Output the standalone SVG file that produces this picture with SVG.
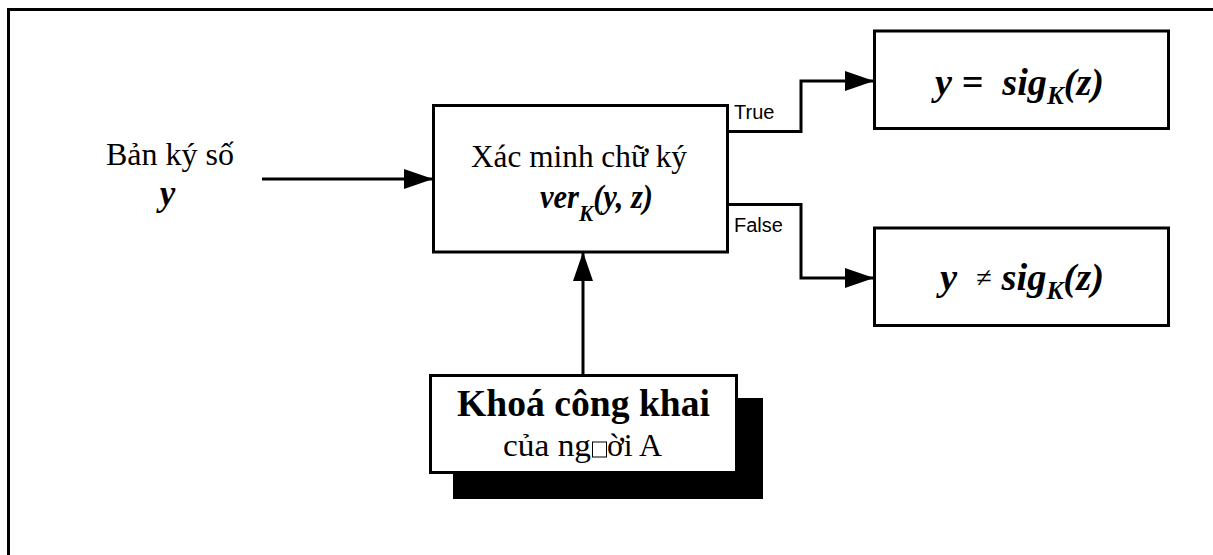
<svg xmlns="http://www.w3.org/2000/svg" width="1213" height="555" viewBox="0 0 1213 555">
  <defs>
    <marker id="arrow" markerUnits="userSpaceOnUse" markerWidth="30" markerHeight="20" refX="29" refY="10" orient="auto">
      <path d="M0,0 L29,10 L0,20 Z" fill="#000"/>
    </marker>
    <style>
      .box { fill: #fff; stroke: #000; stroke-width: 3; }
      .wire { fill: none; stroke: #000; stroke-width: 3; }
      .serif { font-family: "Liberation Serif", "Times New Roman", serif; fill: #000; }
      .math { font-family: "Liberation Serif", "Times New Roman", serif; font-weight: bold; font-style: italic; fill: #000; }
      .sans { font-family: "Liberation Sans", Arial, sans-serif; font-size: 20px; fill: #000; }
    </style>
  </defs>

  <rect width="1213" height="555" fill="#fff"/>

  <!-- outer frame -->
  <path d="M8.5,555 V9.5 H1213" fill="none" stroke="#000" stroke-width="3"/>

  <!-- input label -->
  <g id="input">
    <text class="serif" x="170" y="165" font-size="32" text-anchor="middle" textLength="128" lengthAdjust="spacingAndGlyphs">Bản ký số</text>
    <text class="math" x="167.5" y="205" font-size="35" text-anchor="middle">y</text>
  </g>

  <!-- verification block -->
  <g id="verify">
    <rect class="box" x="433.5" y="105.5" width="294" height="146.5"/>
    <text class="serif" x="579" y="167" font-size="32" text-anchor="middle" textLength="216" lengthAdjust="spacingAndGlyphs">Xác minh chữ ký</text>
    <text class="math" x="540" y="208" font-size="33" textLength="113" lengthAdjust="spacingAndGlyphs">ver<tspan font-size="23" dy="13">K</tspan><tspan dy="-13">(y, z)</tspan></text>
  </g>

  <!-- result: valid -->
  <g id="valid">
    <rect class="box" x="874.5" y="31" width="294" height="97.5"/>
    <text class="math" x="935" y="95" font-size="38" xml:space="preserve" textLength="169" lengthAdjust="spacingAndGlyphs">y =  sig<tspan font-size="25" dy="9">K</tspan><tspan dy="-9">(z)</tspan></text>
  </g>

  <!-- result: invalid -->
  <g id="invalid">
    <rect class="box" x="874.5" y="228" width="294" height="97.5"/>
    <text class="math" x="940" y="290" font-size="38" xml:space="preserve" textLength="164" lengthAdjust="spacingAndGlyphs">y  <tspan font-weight="normal" font-style="normal" font-size="28" dy="-3">≠</tspan><tspan dy="3"> sig</tspan><tspan font-size="25" dy="9">K</tspan><tspan dy="-9">(z)</tspan></text>
  </g>

  <!-- public key block with drop shadow -->
  <g id="public-key">
    <rect x="453" y="398" width="310" height="101" fill="#000"/>
    <rect class="box" x="430.5" y="375.5" width="306" height="97"/>
    <text class="serif" x="583.5" y="416" font-size="37" font-weight="bold" text-anchor="middle" textLength="253" lengthAdjust="spacingAndGlyphs">Khoá công khai</text>
    <text class="serif" x="591" y="456" font-size="31" text-anchor="end" textLength="88" lengthAdjust="spacingAndGlyphs">của ng</text>
    <rect x="592.5" y="442" width="14" height="15" fill="none" stroke="#000" stroke-width="1"/>
    <text class="serif" x="607" y="456" font-size="31" textLength="55" lengthAdjust="spacingAndGlyphs">ời A</text>
  </g>

  <!-- connectors -->
  <g id="connectors">
    <path class="wire" d="M262,179 H433" marker-end="url(#arrow)"/>
    <path class="wire" d="M583,375 V252" marker-end="url(#arrow)"/>
    <path class="wire" d="M727,131.5 H801 V81 H874" marker-end="url(#arrow)"/>
    <path class="wire" d="M727,204.5 H801 V278 H874" marker-end="url(#arrow)"/>
    <text class="sans" x="734" y="119">True</text>
    <text class="sans" x="734" y="232">False</text>
  </g>
</svg>
